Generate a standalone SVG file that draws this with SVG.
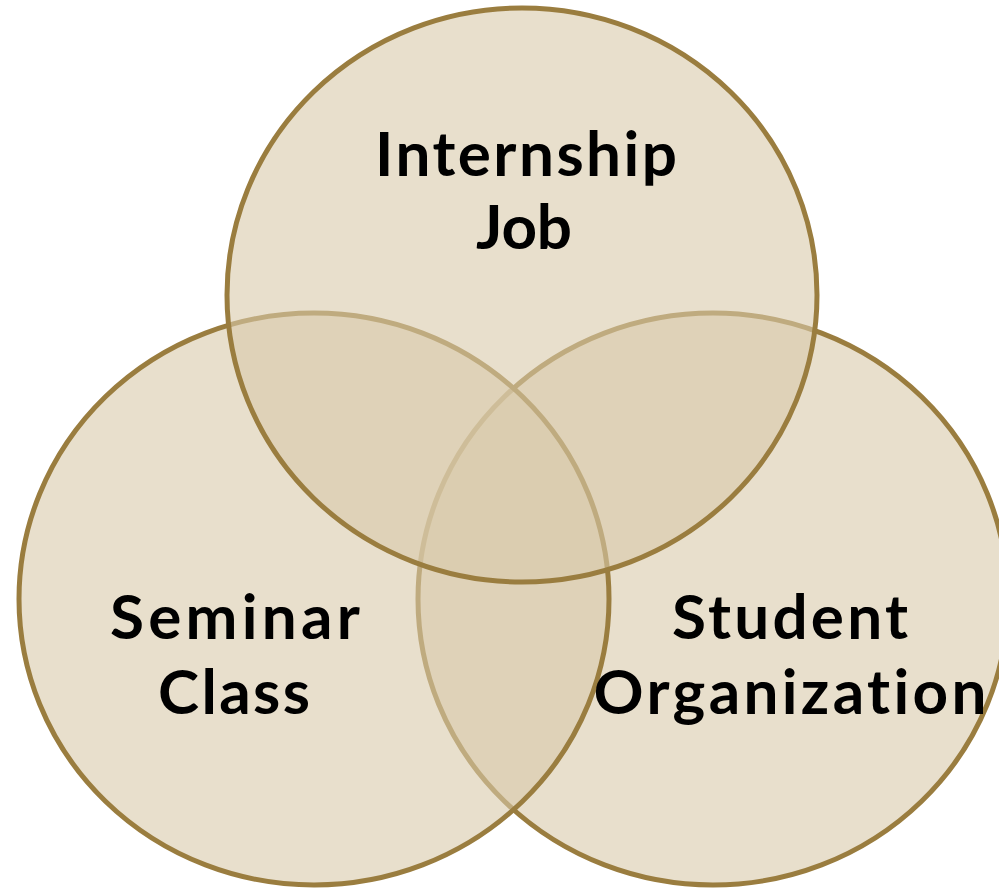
<svg xmlns="http://www.w3.org/2000/svg" width="999" height="889" viewBox="0 0 999 889">
<style>
.c{fill:#D9CAAA;fill-opacity:0.6;stroke:#9A7D3F;stroke-width:5}
.t{font-family:Lato,"Open Sans","Liberation Sans",sans-serif;font-weight:bold;font-size:62px;fill:#000;text-anchor:middle;font-variant-ligatures:none}
</style>
<rect width="999" height="889" fill="#fff"/>
<g id="student-organization">
<ellipse class="c" cx="713" cy="599" rx="295" ry="286"/>
</g>
<g id="seminar-class">
<ellipse class="c" cx="314" cy="599" rx="295" ry="286"/>
</g>
<g id="internship-job">
<ellipse class="c" cx="522" cy="295" rx="295" ry="287"/>
</g>
<g id="labels">
<text class="t" x="526" y="176" textLength="302" lengthAdjust="spacing">Internship</text>
<text class="t" x="524" y="249" textLength="96" lengthAdjust="spacing">Job</text>
<text class="t" x="235" y="639" textLength="250" lengthAdjust="spacing">Seminar</text>
<text class="t" x="234" y="714" textLength="152" lengthAdjust="spacing">Class</text>
<text class="t" x="790" y="639" textLength="236" lengthAdjust="spacing">Student</text>
<text class="t" x="790" y="714" textLength="393" lengthAdjust="spacing">Organization</text>
</g>
<g id="connectors"></g>
</svg>
